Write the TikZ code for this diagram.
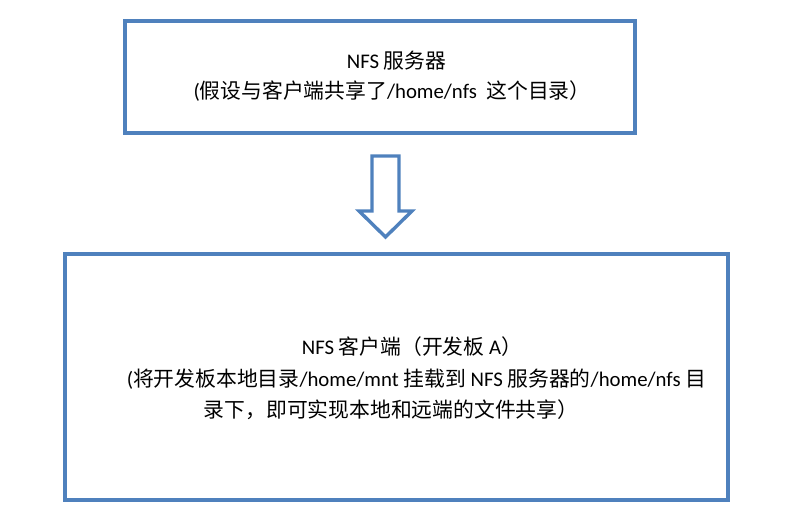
\documentclass[tikz,border=0pt]{standalone}
\usepackage{fontspec}
\usepackage{xcolor}
\setmainfont{Carlito}
\newfontfamily\cjk{Noto Sans CJK SC}
\newcommand{\zh}[1]{{\cjk #1}}
\definecolor{boxblue}{RGB}{79,129,189}

\begin{document}
\begin{tikzpicture}[x=1pt,y=-1pt,
    nfsbox/.style={draw=boxblue,line width=3.4pt,rectangle,inner sep=0pt},
    boxtext/.style={anchor=base,inner sep=0pt,font=\fontsize{20.8}{25}\selectfont},
    blockarrow/.style={draw=boxblue,line width=3.4pt,fill=white,line join=miter}]
                \useasboundingbox (0,0) rectangle (792,518);
                % the two boxes
                \node[nfsbox,minimum width=510pt,minimum height=112pt] (server) at (380,77) {};
                \node[nfsbox,minimum width=663pt,minimum height=246pt] (client) at (396.5,377) {};
                % texts of the server
                \node[boxtext] (servertitle) at (396.5,69) {NFS \zh{服务器}};
                \node[boxtext] (servernote) at (392,99) {(\zh{假设与客户端共享了}/home/nfs\ \ \zh{这个目录）}};
                % texts of the client
                \node[boxtext] (clienttitle) at (412,355) {NFS \zh{客户端（开发板} A\zh{）}};
                \node[boxtext] (clientnote) at (416.5,386) {(\zh{将开发板本地目录}/home/mnt \zh{挂载到} NFS \zh{服务器的}/home/nfs \zh{目}};
                \node[boxtext] (clientnotb) at (391,417) {\zh{录下，即可实现本地和远端的文件共享）}};
                % the hollow arrow between them
                \draw[blockarrow] (372,156) -- (399,156) -- (399,211) -- (412,211)
                    -- (385.5,237) -- (359,211) -- (372,211) -- cycle;
\end{tikzpicture}
\end{document}
